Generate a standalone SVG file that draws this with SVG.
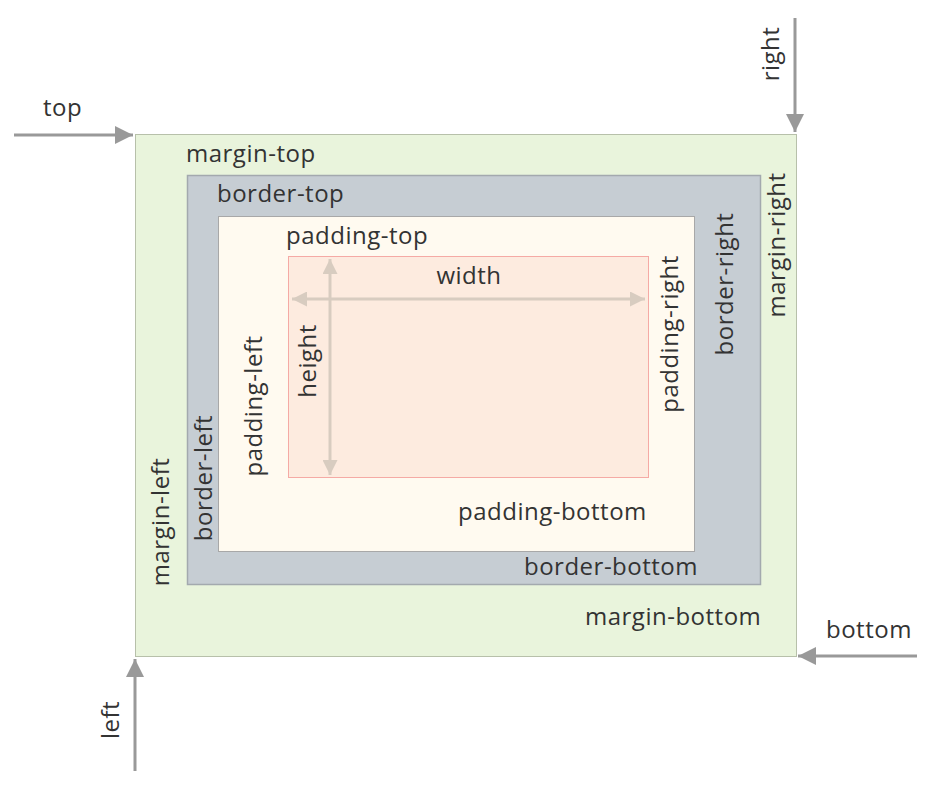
<svg xmlns="http://www.w3.org/2000/svg" width="932" height="793" viewBox="0 0 932 793">
<defs>
<style>
text{font-family:"Open Sans","Noto Sans",sans-serif;font-size:24px;letter-spacing:0.5px;fill:#333}
.arr{stroke:#999;stroke-width:3;fill:none}
.dim{stroke:#d8ccc0;stroke-width:3;fill:none}
</style>
<marker id="ah" viewBox="0 0 10 10" refX="10" refY="5" markerWidth="6" markerHeight="6" orient="auto-start-reverse" markerUnits="strokeWidth">
<path d="M0,0 L10,5 L0,10 z" fill="#999"/>
</marker>
<marker id="dh" viewBox="0 0 10 10" refX="10" refY="5" markerWidth="6" markerHeight="5" orient="auto-start-reverse" markerUnits="strokeWidth">
<path d="M0,0 L10,5 L0,10 z" fill="#d8ccc0"/>
</marker>
</defs>
<rect width="932" height="793" fill="#fff"/>
<g id="margin">
<rect x="135.5" y="134.5" width="661" height="522" fill="#e9f4dc" stroke="#b7c0aa"/>
<text x="186" y="162">margin-top</text>
<text x="585" y="625">margin-bottom</text>
<text transform="translate(785,245) rotate(-90)" text-anchor="middle">margin-right</text>
<text transform="translate(169,522) rotate(-90)" text-anchor="middle">margin-left</text>
</g>
<g id="border">
<rect x="187.5" y="175.5" width="573" height="409" fill="#c6cdd3" stroke="#a3a9ae" stroke-width="1.5"/>
<text x="217" y="202">border-top</text>
<text x="524" y="575">border-bottom</text>
<text transform="translate(733,284) rotate(-90)" text-anchor="middle">border-right</text>
<text transform="translate(212,478) rotate(-90)" text-anchor="middle">border-left</text>
</g>
<g id="padding">
<rect x="218.5" y="216.5" width="476" height="335" fill="#fffaf0" stroke="#a8a8a8"/>
<text x="286" y="244">padding-top</text>
<text x="458" y="520">padding-bottom</text>
<text transform="translate(678,334) rotate(-90)" text-anchor="middle">padding-right</text>
<text transform="translate(262,406) rotate(-90)" text-anchor="middle">padding-left</text>
</g>
<g id="content">
<rect x="288.5" y="256.5" width="360" height="221" fill="#fdebdf" stroke="#f5aaa5"/>
<text x="469" y="284" text-anchor="middle">width</text>
<text transform="translate(316,361) rotate(-90)" text-anchor="middle">height</text>
</g>
<g id="connectors">
<line class="dim" x1="292" y1="299" x2="645" y2="299" marker-start="url(#dh)" marker-end="url(#dh)"/>
<line class="dim" x1="330" y1="259" x2="330" y2="475" marker-start="url(#dh)" marker-end="url(#dh)"/>
<line class="arr" x1="14" y1="135" x2="133" y2="135" marker-end="url(#ah)"/>
<line class="arr" x1="795" y1="18" x2="795" y2="132" marker-end="url(#ah)"/>
<line class="arr" x1="917" y1="656" x2="798" y2="656" marker-end="url(#ah)"/>
<line class="arr" x1="135" y1="771" x2="135" y2="659" marker-end="url(#ah)"/>
</g>
<g id="labels">
<text x="43" y="116">top</text>
<text transform="translate(779,54) rotate(-90)" text-anchor="middle">right</text>
<text x="826" y="638">bottom</text>
<text transform="translate(119,720) rotate(-90)" text-anchor="middle">left</text>
</g>
</svg>
